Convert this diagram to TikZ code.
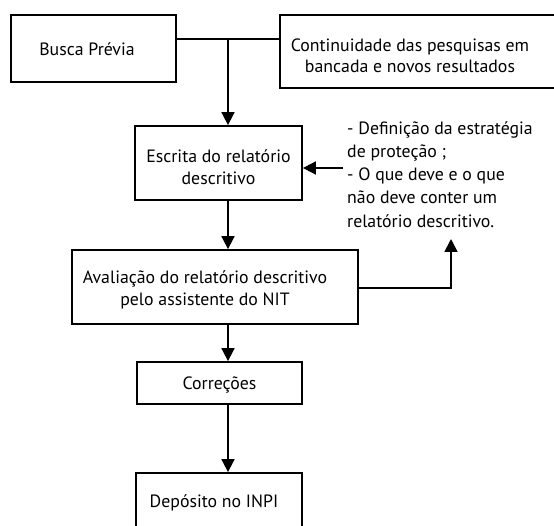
\documentclass[tikz,border=0pt]{standalone}
\usepackage{fontspec}
\setmainfont{PT Sans}
\usetikzlibrary{arrows.meta}
\begin{document}
\begin{tikzpicture}[x=1pt,y=-1pt,
  box/.style={draw=black, line width=1.8pt, rectangle, inner sep=0pt},
  lbl/.style={font=\fontsize{17.8}{21.5}\selectfont, align=center, inner sep=0pt},
  conn/.style={line width=1.8pt, -{Triangle[width=13pt,length=13pt]}},
  plain/.style={line width=1.8pt}]
\useasboundingbox (0,0) rectangle (554,526);
\clip (0,0) rectangle (554,526);
% boxes
\node[box, minimum width=165pt, minimum height=67pt] (busca) at (93.2,48.5) {};
\node[lbl] (buscat) at (87,49) {Busca Prévia};
\node[box, minimum width=320pt, minimum height=73pt] (cont) at (440,51.5) {};
\node[lbl] (contt) at (410,56) {Continuidade das pesquisas em\\bancada e novos resultados};
\node[box, minimum width=167pt, minimum height=74pt] (escrita) at (218.5,163) {};
\node[lbl] (escritat) at (218.5,167) {Escrita do relatório\\descritivo};
\node[box, minimum width=286pt, minimum height=74pt] (aval) at (215,287) {};
\node[lbl] (avalt) at (205,290) {Avaliação do relatório descritivo\\pelo assistente do NIT};
\node[box, minimum width=165pt, minimum height=42pt] (corr) at (219.5,383) {};
\node[lbl] (corrt) at (219.5,385) {Correções};
\node[box, minimum width=166pt, minimum height=90pt] (dep) at (219,518) {};
\node[lbl] (dept) at (214,503) {Depósito no INPI};
% side note
\node[font=\fontsize{17.8}{23.3}\selectfont, align=left, inner sep=0pt, anchor=north west] (note) at (347,121)
  {- Definição da estratégia\\de proteção ;\\- O que deve e o que\\não deve conter um\\relatório descritivo.};
% connectors
\coordinate (j) at (228,39);
\coordinate (ns) at (343,168);
\coordinate (up) at (451,239);
\draw[plain] (busca.east |- j) -- (cont.west |- j);
\draw[conn] (j) -- (escrita.north -| j);
\draw[conn] (ns) -- (escrita.east |- ns);
\draw[conn] (escrita.south -| j) -- (aval.north -| j);
\draw[conn] (aval.east |- 0,288) -| (up);
\draw[conn] (aval.south -| j) -- (corr.north -| j);
\draw[conn] (corr.south -| j) -- (dep.north -| j);
\end{tikzpicture}
\end{document}
